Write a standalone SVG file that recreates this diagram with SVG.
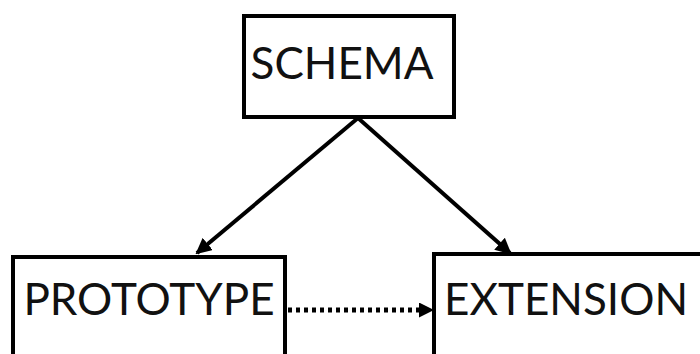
<svg xmlns="http://www.w3.org/2000/svg" width="700" height="354" viewBox="0 0 700 354">
<style>
.box{fill:#fff;stroke:#000;stroke-width:4}
.lbl{font-family:Lato,"Liberation Sans",sans-serif;font-size:44px;fill:#111}
.edge{stroke:#000;stroke-width:4;fill:none}
.dot{stroke:#000;stroke-width:5;fill:none;stroke-dasharray:4 4}
</style>
<defs>
<marker id="ah" markerWidth="4" markerHeight="4" refX="3.5" refY="2" orient="auto" markerUnits="strokeWidth">
<path d="M0,0 L4,2 L0,4 Z" fill="#000"/>
</marker>
<marker id="ah2" markerWidth="3" markerHeight="3" refX="2.8" refY="1.5" orient="auto" markerUnits="strokeWidth">
<path d="M0,0 L3,1.5 L0,3 Z" fill="#000"/>
</marker>
</defs>
<g id="edges">
<line class="edge" x1="358" y1="118" x2="197" y2="253" marker-end="url(#ah)"/>
<line class="edge" x1="358" y1="118" x2="510" y2="253" marker-end="url(#ah)"/>
<line class="dot" x1="288" y1="310" x2="433" y2="310" marker-end="url(#ah2)"/>
</g>
<g id="schema">
<rect class="box" x="244" y="16" width="210" height="101"/>
<text class="lbl" x="342" y="79" text-anchor="middle">SCHEMA</text>
</g>
<g id="prototype">
<rect class="box" x="13" y="257" width="272" height="110"/>
<text class="lbl" x="149" y="315" text-anchor="middle">PROTOTYPE</text>
</g>
<g id="extension">
<rect class="box" x="434" y="254" width="280" height="110"/>
<text class="lbl" x="566" y="315" text-anchor="middle">EXTENSION</text>
</g>
</svg>
